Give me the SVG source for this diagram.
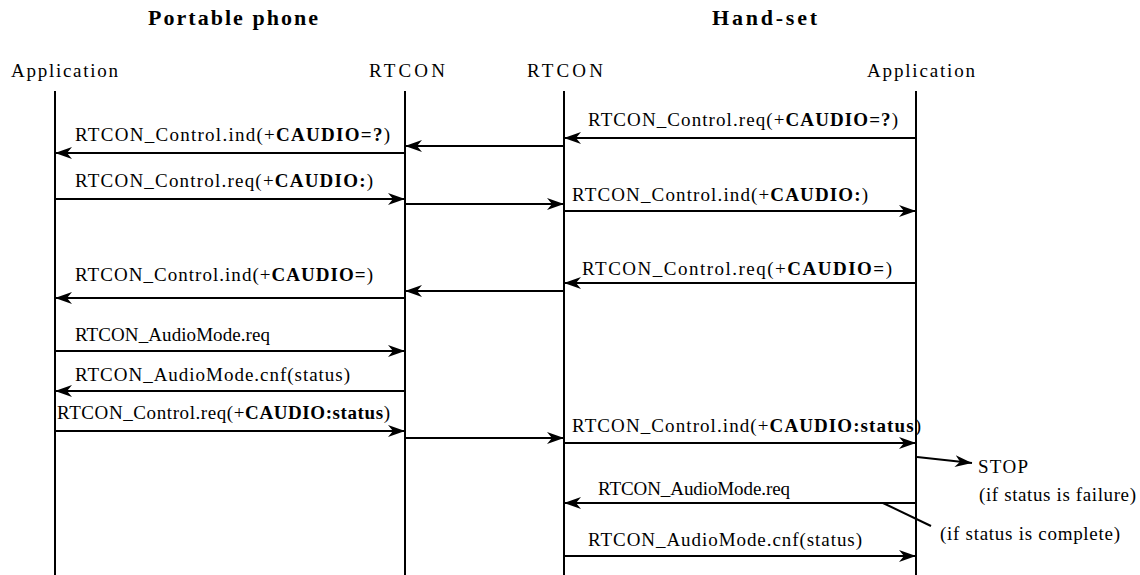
<svg xmlns="http://www.w3.org/2000/svg" width="1140" height="575" viewBox="0 0 1140 575">
<style>
text{font-family:"Liberation Serif","Times New Roman",serif;font-size:19px;fill:#000}
.t{font-size:22px;font-weight:bold}
.b{font-weight:bold}
.life{stroke:#000;stroke-width:2;fill:none}
.msg{stroke:#000;stroke-width:2;fill:none;marker-end:url(#ah)}
.plain{stroke:#000;stroke-width:2;fill:none}
</style>
<defs>
<marker id="ah" markerUnits="userSpaceOnUse" markerWidth="20" markerHeight="14" refX="17" refY="6" orient="auto" viewBox="0 0 20 14">
<path d="M17,6 L0,0 L5,6 L0,12 Z" fill="#000"/>
</marker>
</defs>
<rect width="1140" height="575" fill="#fff"/>
<g id="titles">
<text class="t" x="148" y="25" textLength="170" lengthAdjust="spacing">Portable phone</text>
<text class="t" x="712" y="25" textLength="105" lengthAdjust="spacing">Hand-set</text>
</g>
<g id="app1">
<text x="11" y="77" textLength="107" lengthAdjust="spacing">Application</text>
<line class="life" x1="55" y1="91" x2="55" y2="575"/>
</g>
<g id="rtcon1">
<text x="369" y="77" textLength="76" lengthAdjust="spacing">RTCON</text>
<line class="life" x1="405" y1="91" x2="405" y2="575"/>
</g>
<g id="rtcon2">
<text x="527" y="77" textLength="76" lengthAdjust="spacing">RTCON</text>
<line class="life" x1="564" y1="91" x2="564" y2="575"/>
</g>
<g id="app2">
<text x="867" y="77" textLength="108" lengthAdjust="spacing">Application</text>
<line class="life" x1="916" y1="91" x2="916" y2="575"/>
</g>
<g id="connectors">
<line class="msg" x1="916" y1="138" x2="564" y2="138"/>
<line class="msg" x1="564" y1="146" x2="405" y2="146"/>
<line class="msg" x1="405" y1="153" x2="55" y2="153"/>
<line class="msg" x1="55" y1="199" x2="405" y2="199"/>
<line class="msg" x1="405" y1="204" x2="564" y2="204"/>
<line class="msg" x1="564" y1="211" x2="916" y2="211"/>
<line class="msg" x1="916" y1="283" x2="564" y2="283"/>
<line class="msg" x1="564" y1="291" x2="405" y2="291"/>
<line class="msg" x1="405" y1="298" x2="55" y2="298"/>
<line class="msg" x1="55" y1="351" x2="405" y2="351"/>
<line class="msg" x1="405" y1="391" x2="55" y2="391"/>
<line class="msg" x1="55" y1="431" x2="405" y2="431"/>
<line class="msg" x1="405" y1="438" x2="564" y2="438"/>
<line class="msg" x1="564" y1="443" x2="916" y2="443"/>
<line class="msg" x1="917" y1="457" x2="972" y2="463"/>
<line class="msg" x1="916" y1="503" x2="564" y2="503"/>
<line class="plain" x1="883" y1="503" x2="931" y2="526"/>
<line class="msg" x1="564" y1="556" x2="916" y2="556"/>
</g>
<g id="labels">
<text x="588" y="126" textLength="310" lengthAdjust="spacing">RTCON_Control.req(+<tspan class="b">CAUDIO=?</tspan>)</text>
<text x="75" y="141" textLength="315" lengthAdjust="spacing">RTCON_Control.ind(+<tspan class="b">CAUDIO=?</tspan>)</text>
<text x="75" y="187" textLength="298" lengthAdjust="spacing">RTCON_Control.req(+<tspan class="b">CAUDIO:</tspan>)</text>
<text x="572" y="201" textLength="296" lengthAdjust="spacing">RTCON_Control.ind(+<tspan class="b">CAUDIO:</tspan>)</text>
<text x="582" y="275" textLength="310" lengthAdjust="spacing">RTCON_Control.req(+<tspan class="b">CAUDIO=</tspan>)</text>
<text x="75" y="281" textLength="298" lengthAdjust="spacing">RTCON_Control.ind(+<tspan class="b">CAUDIO=</tspan>)</text>
<text x="75" y="341" textLength="195" lengthAdjust="spacing">RTCON_AudioMode.req</text>
<text x="75" y="381" textLength="275" lengthAdjust="spacing">RTCON_AudioMode.cnf(status)</text>
<text x="57" y="419" textLength="333" lengthAdjust="spacing">RTCON_Control.req(+<tspan class="b">CAUDIO:status</tspan>)</text>
<text x="572" y="432" textLength="349" lengthAdjust="spacing">RTCON_Control.ind(+<tspan class="b">CAUDIO:status</tspan>)</text>
<text x="598" y="495" textLength="192" lengthAdjust="spacing">RTCON_AudioMode.req</text>
<text x="588" y="546" textLength="274" lengthAdjust="spacing">RTCON_AudioMode.cnf(status)</text>
<text x="978" y="473" textLength="50" lengthAdjust="spacing">STOP</text>
<text x="979" y="501" textLength="157" lengthAdjust="spacing">(if status is failure)</text>
<text x="940" y="540" textLength="180" lengthAdjust="spacing">(if status is complete)</text>
</g>
</svg>
